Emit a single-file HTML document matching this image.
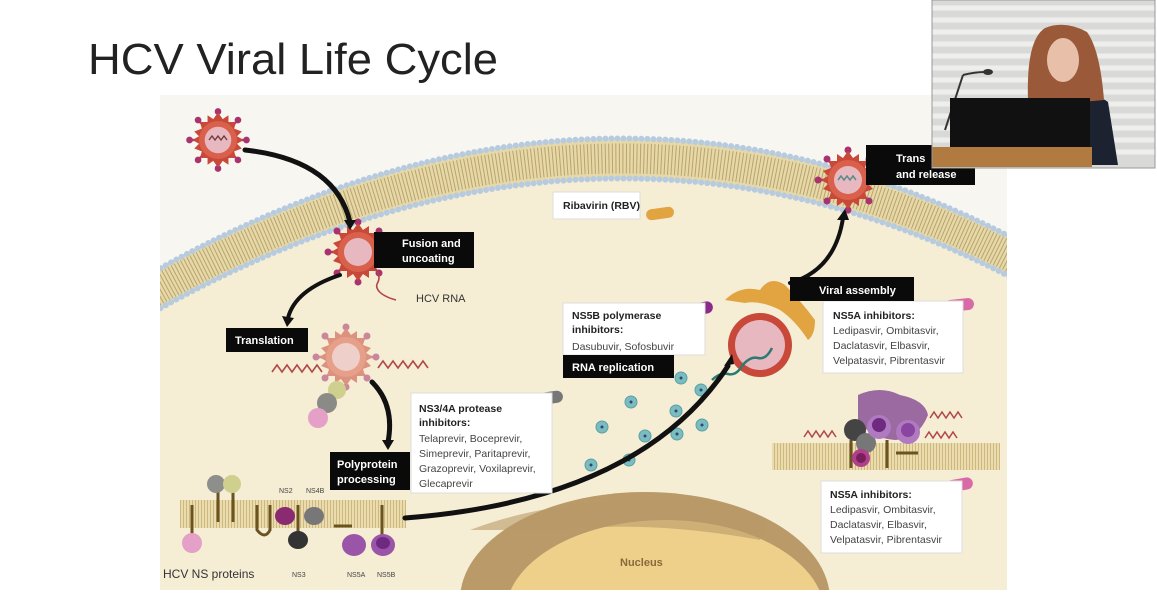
<!DOCTYPE html>
<html><head><meta charset="utf-8"><style>
html,body{margin:0;padding:0;background:#fff;}
body{width:1157px;height:594px;overflow:hidden;position:relative;font-family:"Liberation Sans",sans-serif;}
svg{position:absolute;left:0;top:0;overflow:hidden;}
</style></head><body>
<svg width="1157" height="594" viewBox="0 0 1157 594" xmlns="http://www.w3.org/2000/svg" font-family="Liberation Sans, sans-serif">
<defs>
<clipPath id="cell"><rect x="160" y="95" width="847" height="495"/></clipPath>
<pattern id="stripes" width="3" height="10" patternUnits="userSpaceOnUse">
  <rect width="3" height="10" fill="#eadcae"/>
  <rect width="1" height="10" fill="#cdb97e"/>
</pattern>
<g id="virus">
  <g fill="#a8336e">
    <circle cx="0" cy="-30" r="3.5"/><circle cx="21" cy="-21" r="3.5"/><circle cx="30" cy="0" r="3.5"/><circle cx="21" cy="21" r="3.5"/>
    <circle cx="0" cy="30" r="3.5"/><circle cx="-21" cy="21" r="3.5"/><circle cx="-30" cy="0" r="3.5"/><circle cx="-21" cy="-21" r="3.5"/>
  </g>
  <g stroke="#a8336e" stroke-width="2.5">
    <line x1="0" y1="-22" x2="0" y2="-30"/><line x1="15" y1="-15" x2="21" y2="-21"/><line x1="22" y1="0" x2="30" y2="0"/><line x1="15" y1="15" x2="21" y2="21"/>
    <line x1="0" y1="22" x2="0" y2="30"/><line x1="-15" y1="15" x2="-21" y2="21"/><line x1="-22" y1="0" x2="-30" y2="0"/><line x1="-15" y1="-15" x2="-21" y2="-21"/>
  </g>
  <polygon fill="#c8483a" points="0,-29 5,-22 11,-26 11,-19 19,-19 17,-12 25,-9 20,-4 27,0 20,4 25,9 17,12 19,19 11,19 11,26 5,22 0,29 -5,22 -11,26 -11,19 -19,19 -17,12 -25,9 -20,4 -27,0 -20,-4 -25,-9 -17,-12 -19,-19 -11,-19 -11,-26 -5,-22"/>
  <circle r="20" fill="#d9604a"/>
  <circle r="14" fill="#e8b8c0"/>
</g>
</defs>

<text x="88" y="74" font-size="44" fill="#222" textLength="410" lengthAdjust="spacingAndGlyphs">HCV Viral Life Cycle</text>

<rect x="160" y="95" width="847" height="495" fill="#f8f6f0"/>
<g clip-path="url(#cell)">
<path d="M150,294 Q600,40 1020,262 L1020,600 L150,600 Z" fill="#f6edd5"/>
<path d="M150,294 Q600,40 1020,262" fill="none" stroke="#e6d8a8" stroke-width="38"/>
<path d="M150,294 Q600,40 1020,262" fill="none" stroke="#b9a46a" stroke-width="30" stroke-dasharray="1 2.5"/>
<path d="M150,274 Q600,20 1020,242" fill="none" stroke="#b6cbe0" stroke-width="6" stroke-linecap="round" stroke-dasharray="0 6"/>
<path d="M150,314 Q600,60 1020,282" fill="none" stroke="#b6cbe0" stroke-width="6" stroke-linecap="round" stroke-dasharray="0 6"/>
<ellipse cx="645" cy="600" rx="185" ry="108" fill="#b99a68"/>
<ellipse cx="665" cy="615" rx="160" ry="95" fill="#eed08a"/>
<path d="M470,530 Q560,495 700,500 Q780,510 760,540 Q650,520 560,530 Z" fill="#b99a68" opacity="0.6"/>
</g>
<text x="620" y="566" font-size="11" font-weight="bold" fill="#8a6a3a">Nucleus</text>

<rect x="180" y="500" width="226" height="28" fill="url(#stripes)"/>
<rect x="772" y="443" width="228" height="27" fill="url(#stripes)"/>

<g stroke="#6b5320" stroke-width="3" fill="none">
<line x1="218" y1="490" x2="218" y2="522"/><line x1="233" y1="490" x2="233" y2="522"/>
<line x1="192" y1="505" x2="192" y2="540"/>
<path d="M257,505 V530 Q265,540 270,530 V505"/>
<line x1="298" y1="505" x2="298" y2="540"/>
<line x1="334" y1="526" x2="352" y2="526"/>
<line x1="382" y1="505" x2="382" y2="540"/>
</g>
<circle cx="216" cy="484" r="9" fill="#8e8e8a"/><circle cx="232" cy="484" r="9" fill="#cfd08e"/>
<circle cx="192" cy="543" r="10" fill="#e5a0c8"/>
<ellipse cx="285" cy="516" rx="10" ry="9" fill="#8a2a70"/>
<ellipse cx="314" cy="516" rx="10" ry="9" fill="#777"/>
<ellipse cx="298" cy="540" rx="10" ry="9" fill="#333"/>
<ellipse cx="354" cy="545" rx="12" ry="11" fill="#9a55a8"/>
<ellipse cx="383" cy="545" rx="12" ry="11" fill="#9a55a8"/><ellipse cx="383" cy="543" rx="7" ry="6" fill="#6e2a80"/>
<g font-size="7" fill="#444">
<text x="279" y="493">NS2</text><text x="306" y="493">NS4B</text>
<text x="292" y="577">NS3</text><text x="347" y="577">NS5A</text><text x="377" y="577">NS5B</text>
</g>
<text x="163" y="578" font-size="12" fill="#333">HCV NS proteins</text>

<path d="M858,395 Q880,385 900,395 Q925,400 928,415 Q918,440 895,440 Q870,438 858,420 Z" fill="#9a6aa0"/>
<g stroke="#6b5320" stroke-width="3"><line x1="851" y1="440" x2="851" y2="468"/><line x1="887" y1="440" x2="887" y2="468"/><line x1="896" y1="453" x2="918" y2="453"/></g>
<circle cx="855" cy="430" r="11" fill="#444"/>
<circle cx="866" cy="443" r="10" fill="#777"/>
<circle cx="861" cy="458" r="9" fill="#b0408a"/><circle cx="861" cy="458" r="5" fill="#7a1f5e"/>
<circle cx="879" cy="427" r="12" fill="#b07ac0"/><circle cx="879" cy="425" r="7" fill="#6e2a80"/>
<circle cx="908" cy="432" r="12" fill="#b07ac0"/><circle cx="908" cy="430" r="7" fill="#8a45a0"/>
<g fill="none" stroke="#b04848" stroke-width="1.5">
<path d="M804,437 l4,-6 l4,6 l4,-6 l4,6 l4,-6 l4,6 l4,-6 l4,6"/>
<path d="M930,418 l4,-6 l4,6 l4,-6 l4,6 l4,-6 l4,6 l4,-6 l4,6"/>
<path d="M925,438 l4,-6 l4,6 l4,-6 l4,6 l4,-6 l4,6 l4,-6 l4,6"/>
</g>

<use href="#virus" transform="translate(218,140) scale(0.95)"/>
<path d="M209,140 l3,-4 l3,4 l3,-4 l3,4 l3,-4 l3,4" fill="none" stroke="#6a3a3a" stroke-width="1.3"/>
<use href="#virus" transform="translate(358,252)"/>
<path d="M375,268 q6,8 3,14 q-4,6 4,12 q6,4 14,6" fill="none" stroke="#b04848" stroke-width="1.6"/>
<text x="416" y="302" font-size="11" fill="#333">HCV RNA</text>
<g opacity="0.55"><use href="#virus" transform="translate(346,357)"/></g>
<g fill="none" stroke="#b04848" stroke-width="1.6">
<path d="M272,372 l5,-7 l5,7 l5,-7 l5,7 l5,-7 l5,7 l5,-7 l5,7 l5,-7 l5,7"/>
<path d="M378,368 l5,-7 l5,7 l5,-7 l5,7 l5,-7 l5,7 l5,-7 l5,7 l5,-7 l5,7"/>
</g>
<circle cx="337" cy="390" r="9" fill="#cfcf8e"/>
<circle cx="327" cy="403" r="10" fill="#8a8a86"/>
<circle cx="318" cy="418" r="10" fill="#e5a0c8"/>
<use href="#virus" transform="translate(848,180)"/>
<path d="M838,180 l3,-4 l3,4 l3,-4 l3,4 l3,-4 l3,4" fill="none" stroke="#5a8a8a" stroke-width="1.5"/>

<path d="M725,300 Q740,285 760,290 Q770,275 785,285 Q800,300 815,320 Q815,335 808,340 Q795,320 780,310 Q760,300 745,303 Z" fill="#e1a440"/>
<circle cx="760" cy="345" r="32" fill="#c8483a"/>
<circle cx="760" cy="345" r="25" fill="#e8b8c0"/>
<path d="M712,380 q8,-8 16,-6 q8,2 14,-8 q8,-10 16,-8 q8,2 14,-10" fill="none" stroke="#2a7a72" stroke-width="2.5"/>

<g fill="#7bbcc0" stroke="#5aa0a5" stroke-width="1">
<circle cx="681" cy="378" r="6"/><circle cx="701" cy="390" r="6"/><circle cx="631" cy="402" r="6"/>
<circle cx="676" cy="411" r="6"/><circle cx="602" cy="427" r="6"/><circle cx="645" cy="436" r="6"/>
<circle cx="702" cy="425" r="6"/><circle cx="591" cy="465" r="6"/><circle cx="629" cy="460" r="6"/>
<circle cx="677" cy="434" r="6"/>
</g>
<g fill="#2c4a6a"><circle cx="681" cy="378" r="1.5"/><circle cx="701" cy="390" r="1.5"/><circle cx="631" cy="402" r="1.5"/><circle cx="676" cy="411" r="1.5"/><circle cx="602" cy="427" r="1.5"/><circle cx="645" cy="436" r="1.5"/><circle cx="702" cy="425" r="1.5"/><circle cx="591" cy="465" r="1.5"/><circle cx="629" cy="460" r="1.5"/><circle cx="677" cy="434" r="1.5"/></g>

<g fill="none" stroke="#111" stroke-linecap="round">
<path d="M245,150 Q335,160 350,222" stroke-width="5"/>
<path d="M340,275 Q295,290 288,318" stroke-width="4"/>
<path d="M372,382 Q395,405 388,442" stroke-width="5"/>
<path d="M405,518 Q640,500 728,366" stroke-width="5"/>
<path d="M790,283 Q835,270 843,218" stroke-width="4"/>
</g>
<g fill="#111">
<polygon points="344,220 356,220 350,230"/>
<polygon points="282,316 294,318 287,327"/>
<polygon points="382,440 394,440 388,450"/>
<polygon points="724,366 734,364 732,354"/>
<polygon points="837,220 849,220 845,209"/>
</g>

<rect x="646" y="208" width="28" height="11" rx="5.5" fill="#e1a440" transform="rotate(-8 660 213)"/>
<rect x="683" y="303" width="30" height="12" rx="6" fill="#8a2a8a" transform="rotate(-10 698 309)"/>
<rect x="533" y="392" width="30" height="12" rx="6" fill="#777" transform="rotate(-8 548 398)"/>
<rect x="944" y="299" width="30" height="12" rx="6" fill="#d86aa8" transform="rotate(-6 959 305)"/>
<rect x="943" y="479" width="30" height="12" rx="6" fill="#d86aa8" transform="rotate(-10 958 485)"/>

<g fill="#fff" stroke="#ddd" stroke-width="1">
<rect x="553" y="192" width="87" height="27"/>
<rect x="563" y="303" width="142" height="52"/>
<rect x="411" y="393" width="141" height="100"/>
<rect x="823" y="301" width="140" height="72"/>
<rect x="821" y="481" width="141" height="72"/>
</g>
<g font-size="10.5" fill="#222">
<text x="563" y="209" font-weight="bold">Ribavirin (RBV)</text>
<text x="572" y="319" font-weight="bold">NS5B polymerase</text>
<text x="572" y="333" font-weight="bold">inhibitors:</text>
<text x="572" y="350" fill="#444">Dasubuvir, Sofosbuvir</text>
<text x="419" y="412" font-weight="bold">NS3/4A protease</text>
<text x="419" y="426" font-weight="bold">inhibitors:</text>
<g fill="#444"><text x="419" y="442">Telaprevir, Boceprevir,</text><text x="419" y="457">Simeprevir, Paritaprevir,</text><text x="419" y="472">Grazoprevir, Voxilaprevir,</text><text x="419" y="487">Glecaprevir</text></g>
<text x="833" y="319" font-weight="bold">NS5A inhibitors:</text>
<g fill="#444"><text x="833" y="334">Ledipasvir, Ombitasvir,</text><text x="833" y="349">Daclatasvir, Elbasvir,</text><text x="833" y="364">Velpatasvir, Pibrentasvir</text></g>
<text x="830" y="498" font-weight="bold">NS5A inhibitors:</text>
<g fill="#444"><text x="830" y="513">Ledipasvir, Ombitasvir,</text><text x="830" y="528">Daclatasvir, Elbasvir,</text><text x="830" y="543">Velpatasvir, Pibrentasvir</text></g>
</g>

<g fill="#0a0a0a">
<rect x="374" y="232" width="100" height="36"/>
<rect x="226" y="328" width="82" height="24"/>
<rect x="330" y="452" width="80" height="38"/>
<rect x="563" y="355" width="111" height="23"/>
<rect x="790" y="277" width="124" height="24"/>
<rect x="866" y="145" width="109" height="40"/>
</g>
<g font-size="11" font-weight="bold" fill="#fff">
<text x="402" y="247">Fusion and</text><text x="402" y="262">uncoating</text>
<text x="235" y="344">Translation</text>
<text x="337" y="468">Polyprotein</text><text x="337" y="483">processing</text>
<text x="572" y="371">RNA replication</text>
<text x="819" y="294">Viral assembly</text>
<text x="896" y="162">Trans</text><text x="896" y="178">and release</text>
</g>

<rect x="932" y="0" width="223" height="168" fill="#d9dad8"/>
<g stroke="#eeeeec" stroke-width="5">
<line x1="932" y1="8" x2="1155" y2="8"/><line x1="932" y1="20" x2="1155" y2="20"/><line x1="932" y1="32" x2="1155" y2="32"/><line x1="932" y1="44" x2="1155" y2="44"/><line x1="932" y1="56" x2="1155" y2="56"/><line x1="932" y1="68" x2="1155" y2="68"/><line x1="932" y1="80" x2="1155" y2="80"/><line x1="932" y1="92" x2="1155" y2="92"/><line x1="932" y1="104" x2="1155" y2="104"/><line x1="932" y1="116" x2="1155" y2="116"/><line x1="932" y1="128" x2="1155" y2="128"/><line x1="932" y1="140" x2="1155" y2="140"/><line x1="932" y1="152" x2="1155" y2="152"/>
</g>
<path d="M1022,165 L1024,100 Q1040,92 1065,95 Q1095,92 1108,102 L1118,165 Z" fill="#1c2230"/>
<path d="M1028,100 Q1026,40 1045,28 Q1065,20 1087,32 Q1100,50 1104,100 L1082,102 L1050,102 Z" fill="#9a5a3a"/>
<ellipse cx="1063" cy="60" rx="16" ry="22" fill="#e8c0aa"/>
<path d="M963,75 L945,130" stroke="#333" stroke-width="2"/>
<ellipse cx="988" cy="72" rx="5" ry="3" fill="#333"/>
<path d="M963,75 Q975,72 985,72" stroke="#333" stroke-width="2" fill="none"/>
<rect x="950" y="98" width="140" height="50" fill="#111"/>
<rect x="932" y="147" width="160" height="20" fill="#b07a40"/>
<rect x="932" y="0" width="223" height="168" fill="none" stroke="#999" stroke-width="1"/>
</svg>
</body></html>
